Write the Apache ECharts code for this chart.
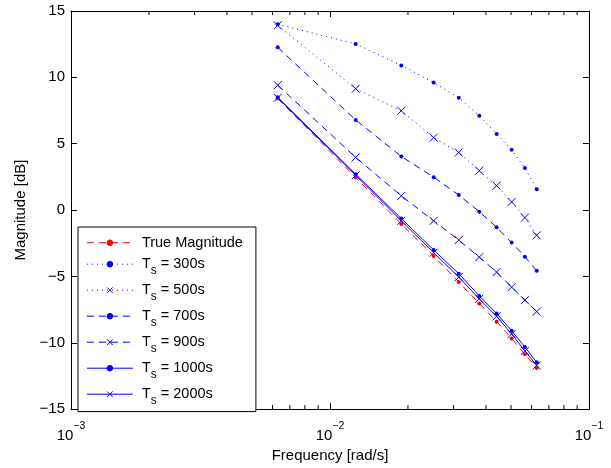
<!DOCTYPE html>
<html>
<head>
<meta charset="utf-8">
<script src="https://cdn.jsdelivr.net/npm/echarts@6/dist/echarts.min.js"></script>
<style>html,body{margin:0;padding:0;background:#fff;}#c{width:611px;height:468px;}</style>
</head>
<body>
<div id="c"></div>
<script>
const freqs = [0.006283, 0.012566, 0.018850, 0.025133, 0.031416, 0.037699, 0.043982, 0.050265, 0.056549, 0.062832];
const trueMag = [8.40, 2.45, -1.05, -3.46, -5.42, -7.04, -8.41, -9.68, -10.86, -11.91];
const ts300 = [14.0, 12.52, 10.9, 9.61, 8.46, 7.11, 5.74, 4.54, 3.16, 1.57];
const ts500 = [13.92, 9.14, 7.48, 5.46, 4.34, 2.97, 1.84, 0.61, -0.57, -1.91];
const ts700 = [12.26, 6.79, 4.04, 2.48, 1.13, -0.12, -1.30, -2.45, -3.51, -4.58];
const ts900 = [9.41, 3.97, 1.07, -0.81, -2.26, -3.55, -4.68, -5.81, -6.79, -7.65];
const ts1000 = [8.50, 2.70, -0.64, -3.01, -4.80, -6.47, -7.79, -9.09, -10.32, -11.47];
const ts2000 = [8.46, 2.62, -0.81, -3.21, -5.05, -6.69, -8.01, -9.34, -10.61, -11.71];
const minorTicks = [0.002,0.003,0.004,0.005,0.006,0.007,0.008,0.009,0.02,0.03,0.04,0.05,0.06,0.07,0.08,0.09];
const seriesNames = ['True Magnitude','Ts = 300s','Ts = 500s','Ts = 700s','Ts = 900s','Ts = 1000s','Ts = 2000s'];

const FONT = "'Liberation Sans', Arial, Helvetica, sans-serif";
const BLUE = '#0000ff', RED = '#ff0000';
const XSYM = 'path://M0,0L10,10M10,0L0,10';
const pairs = arr => freqs.map((f, i) => [f, arr[i]]);

function mk(name, arr, color, type, sym, size) {
  return {
    name, type: 'line', data: pairs(arr), xAxisIndex: 0, yAxisIndex: 0,
    symbol: sym, symbolSize: size, showSymbol: true,
    lineStyle: { color, width: 1, type },
    itemStyle: { color, borderColor: color, borderWidth: sym === XSYM ? 1 : 0 },
    emphasis: { disabled: true }, animation: false, z: 3
  };
}

const chart = echarts.init(document.getElementById('c'), null, { renderer: 'canvas' });
const expLabel = v => {
  const e = Math.round(Math.log10(v));
  return '{b|10}{e|' + (e < 0 ? '\u2212' : '') + Math.abs(e) + '}';
};
const yLabel = v => (v < 0 ? '\u2212' + Math.abs(v) : '' + v);
const axisLineStyle = { show: true, onZero: false, lineStyle: { color: '#000', width: 1 } };
const tickStyle = { show: true, inside: true, length: 6, lineStyle: { color: '#000' } };

const option = {
  animation: false,
  backgroundColor: '#fff',
  textStyle: { fontFamily: FONT },
  grid: { left: 71, top: 11, width: 518, height: 408, show: false },
  xAxis: [
    { type: 'log', logBase: 10, min: 0.001, max: 0.1, position: 'bottom',
      axisLine: axisLineStyle, axisTick: tickStyle, splitLine: { show: false },
      axisLabel: { formatter: expLabel, margin: 12, color: '#000', fontFamily: FONT,
        rich: { b: { fontSize: 15, fontFamily: FONT, color: '#000', padding: [7, 0, 0, 0] },
                e: { fontSize: 10.5, fontFamily: FONT, color: '#000', verticalAlign: 'top' } } },
      name: 'Frequency [rad/s]', nameLocation: 'middle', nameGap: 37,
      nameTextStyle: { fontSize: 15, color: '#000', fontFamily: FONT } },
    { type: 'log', logBase: 10, min: 0.001, max: 0.1, position: 'top',
      axisLine: axisLineStyle, axisTick: tickStyle,
      splitLine: { show: false }, axisLabel: { show: false } }
  ],
  yAxis: [
    { type: 'value', min: -15, max: 15, interval: 5, position: 'left',
      axisLine: axisLineStyle, axisTick: tickStyle, splitLine: { show: false },
      axisLabel: { formatter: yLabel, fontSize: 15, color: '#000', margin: 6, fontFamily: FONT },
      name: 'Magnitude [dB]', nameLocation: 'middle', nameGap: 36, nameRotate: 90,
      nameTextStyle: { fontSize: 15, color: '#000', fontFamily: FONT } },
    { type: 'value', min: -15, max: 15, interval: 5, position: 'right',
      axisLine: axisLineStyle, axisTick: tickStyle,
      splitLine: { show: false }, axisLabel: { show: false } }
  ],
  legend: {
    orient: 'vertical', left: 78, top: 227,
    data: seriesNames,
    backgroundColor: '#fff', borderColor: '#000', borderWidth: 1,
    padding: [8.2, 13, 5.4, 8.4], itemGap: 6.5, itemWidth: 46, itemHeight: 7,
    selectedMode: false,
    itemStyle: { borderWidth: 1 },
    lineStyle: { width: 1 },
    formatter: n => n.indexOf('Ts') === 0 ? '{t|T}{s|s}{t|' + n.slice(2) + '}' : '{t|' + n + '}',
    textStyle: { fontFamily: FONT, fontSize: 14.5, color: '#000', padding: [0, 0, 0, 4],
      rich: { t: { fontSize: 14.5, fontFamily: FONT, color: '#000' },
              s: { fontSize: 12, fontFamily: FONT, color: '#000', padding: [12, 0, 0, 0] } } }
  },
  series: [
    mk(seriesNames[0], trueMag, RED, [7, 5], 'circle', 4),
    mk(seriesNames[1], ts300, BLUE, [1, 4], 'circle', 4),
    mk(seriesNames[2], ts500, BLUE, [1, 4], XSYM, 8),
    mk(seriesNames[3], ts700, BLUE, [7, 5], 'circle', 4),
    mk(seriesNames[4], ts900, BLUE, [7, 5], XSYM, 8),
    mk(seriesNames[5], ts1000, BLUE, 'solid', 'circle', 4),
    mk(seriesNames[6], ts2000, BLUE, 'solid', XSYM, 8),
    {
      name: 'minor', type: 'custom', xAxisIndex: 0, yAxisIndex: 0, silent: true, clip: false,
      data: minorTicks.map(v => [v, 0]),
      renderItem: (params, api) => {
        const v = api.value(0);
        const b = api.coord([v, -15]);
        const t = api.coord([v, 15]);
        const st = { stroke: '#000', lineWidth: 1 };
        return { type: 'group', children: [
          { type: 'line', shape: { x1: b[0], y1: b[1], x2: b[0], y2: b[1] - 4 }, style: st },
          { type: 'line', shape: { x1: t[0], y1: t[1], x2: t[0], y2: t[1] + 4 }, style: st }
        ] };
      }
    }
  ]
};
chart.setOption(option);
</script>
</body>
</html>
